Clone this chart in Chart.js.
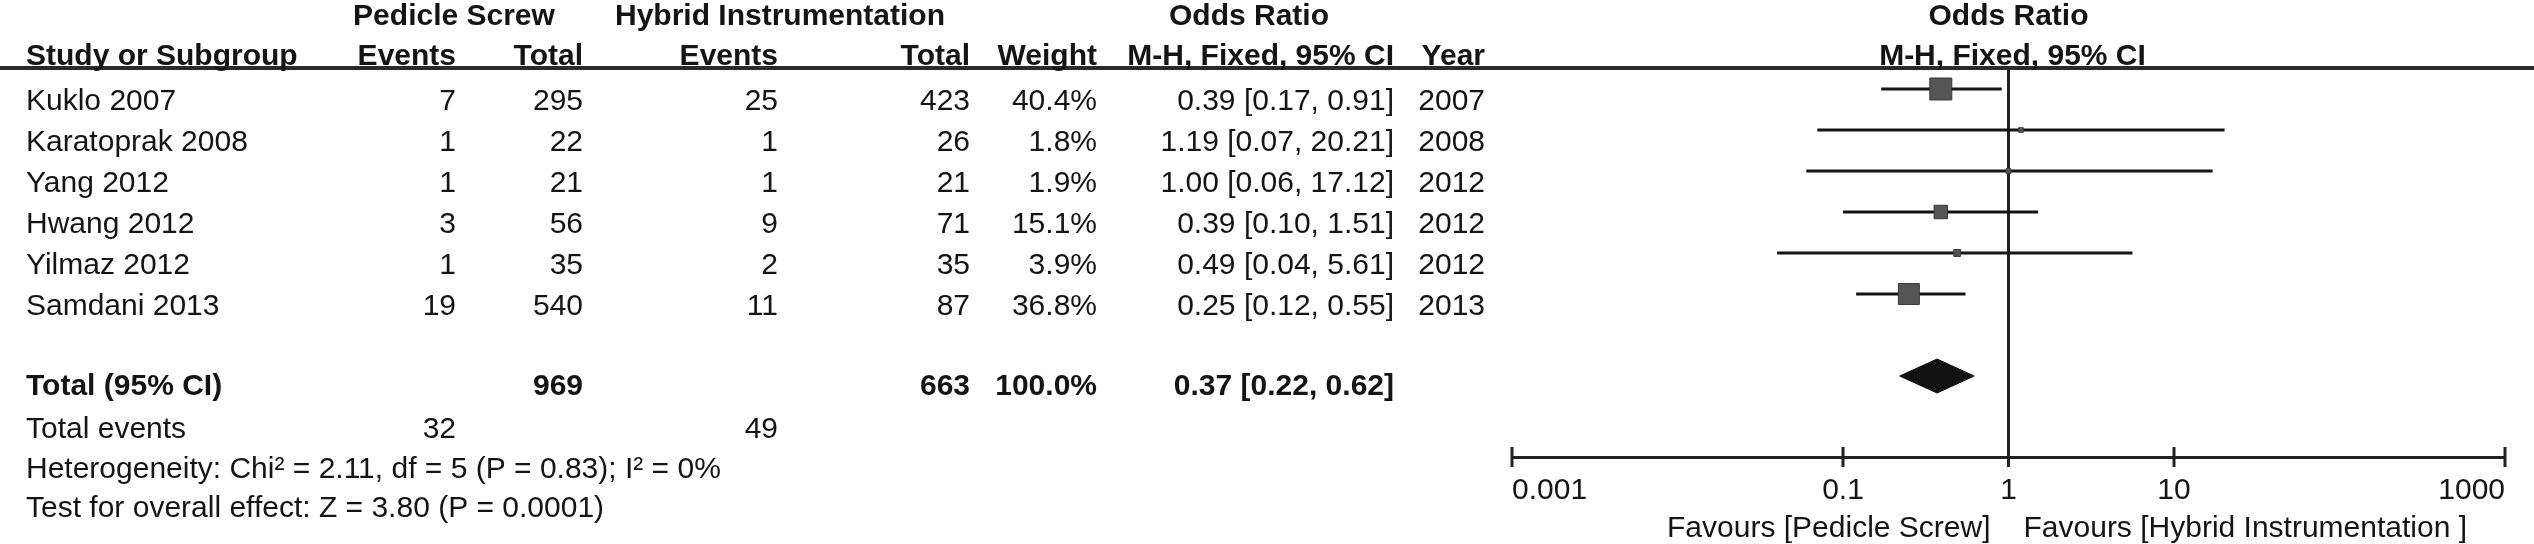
<!DOCTYPE html>
<html>
<head>
<meta charset="utf-8">
<script src="https://cdn.jsdelivr.net/npm/chart.js@4.4.1/dist/chart.umd.min.js"></script>
<style>
html,body{margin:0;padding:0;background:#fff;overflow:hidden}
#wrap{width:2534px;height:544px;position:relative}
</style>
</head>
<body>
<div id="wrap"><canvas id="c" width="2534" height="544"></canvas></div>
<script>
// ---------- data ----------
const studies   = ['Kuklo 2007','Karatoprak 2008','Yang 2012','Hwang 2012','Yilmaz 2012','Samdani 2013'];
const psEvents  = [7, 1, 1, 3, 1, 19];
const psTotal   = [295, 22, 21, 56, 35, 540];
const hiEvents  = [25, 1, 1, 9, 2, 11];
const hiTotal   = [423, 26, 21, 71, 35, 87];
const weights   = [40.4, 1.8, 1.9, 15.1, 3.9, 36.8];
const oddsRatio = [0.39, 1.19, 1.00, 0.39, 0.49, 0.25];
const ciLow     = [0.17, 0.07, 0.06, 0.10, 0.04, 0.12];
const ciHigh    = [0.91, 20.21, 17.12, 1.51, 5.61, 0.55];
const years     = [2007, 2008, 2012, 2012, 2012, 2013];

const totalCounts   = [969, 663];        // pedicle screw, hybrid
const totalEvents   = [32, 49];
const totalWeight   = [100.0];
const pooledOR      = [0.37, 0.22, 0.62]; // estimate, low, high
const statsLines    = ['Heterogeneity: Chi² = 2.11, df = 5 (P = 0.83); I² = 0%',
                       'Test for overall effect: Z = 3.80 (P = 0.0001)'];

const tickValues = [0.001, 0.1, 1, 10, 1000];
const tickLabels = ['0.001', '0.1', '1', '10', '1000'];
const favours    = ['Favours [Pedicle Screw]', 'Favours [Hybrid Instrumentation ]'];

// ---------- style / layout ----------
const FONT = '"Liberation Sans", Arial, Helvetica, sans-serif';
const INK = '#141414';
const TOTAL_ROW = 7;
const ROW_PX = 41, ROW0_PX = 89, TOP_PX = 68, AXIS_PX = 457;

const colX = {E1: 456, T1: 583, E2: 778, T2: 970, W: 1097, CI: 1394, Y: 1485, left: 26};

function txt(ctx, s, x, y, align, bold) {
  ctx.font = (bold ? 'bold ' : '') + '30px ' + FONT;
  ctx.textAlign = align;
  ctx.textBaseline = 'alphabetic';
  ctx.fillStyle = INK;
  ctx.fillText(s, x, y);
}
const f2 = v => v.toFixed(2);

const tablePlugin = {
  id: 'forestTable',
  beforeDatasetsDraw(chart) {
    const ctx = chart.ctx, xs = chart.scales.x, ca = chart.chartArea;
    const x1 = xs.getPixelForValue(1);
    ctx.save();
    ctx.strokeStyle = '#222'; ctx.lineWidth = 3;
    ctx.beginPath(); ctx.moveTo(x1, ca.top); ctx.lineTo(x1, ca.bottom); ctx.stroke();
    ctx.restore();
  },
  afterDraw(chart) {
    const ctx = chart.ctx, xs = chart.scales.x, ys = chart.scales.y, ca = chart.chartArea;
    const x1 = xs.getPixelForValue(1);
    ctx.save();
    // header rule
    ctx.strokeStyle = '#2a2a2a'; ctx.lineWidth = 4;
    ctx.beginPath(); ctx.moveTo(0, ca.top); ctx.lineTo(chart.width, ca.top); ctx.stroke();
    // axis tick marks crossing the axis
    ctx.lineWidth = 3; ctx.strokeStyle = '#222';
    tickValues.forEach(v => {
      const x = xs.getPixelForValue(v);
      ctx.beginPath(); ctx.moveTo(x, ca.bottom - 10); ctx.lineTo(x, ca.bottom + 10); ctx.stroke();
    });
    // top headers
    txt(ctx, 'Pedicle Screw', 454, 25, 'center', true);
    txt(ctx, 'Hybrid Instrumentation', 780, 25, 'center', true);
    txt(ctx, 'Odds Ratio', 1249, 25, 'center', true);
    txt(ctx, 'Odds Ratio', x1, 25, 'center', true);
    // column headers
    const hy = 65;
    txt(ctx, 'Study or Subgroup', colX.left, hy, 'left', true);
    txt(ctx, 'Events', colX.E1, hy, 'right', true);
    txt(ctx, 'Total', colX.T1, hy, 'right', true);
    txt(ctx, 'Events', colX.E2, hy, 'right', true);
    txt(ctx, 'Total', colX.T2, hy, 'right', true);
    txt(ctx, 'Weight', colX.W, hy, 'right', true);
    txt(ctx, 'M-H, Fixed, 95% CI', colX.CI, hy, 'right', true);
    txt(ctx, 'Year', colX.Y, hy, 'right', true);
    txt(ctx, 'M-H, Fixed, 95% CI', x1 + 4, hy, 'center', true);
    // study rows
    studies.forEach((s, i) => {
      const y = ys.getPixelForValue(i) + 21;
      txt(ctx, s, colX.left, y, 'left', false);
      txt(ctx, String(psEvents[i]), colX.E1, y, 'right', false);
      txt(ctx, String(psTotal[i]), colX.T1, y, 'right', false);
      txt(ctx, String(hiEvents[i]), colX.E2, y, 'right', false);
      txt(ctx, String(hiTotal[i]), colX.T2, y, 'right', false);
      txt(ctx, weights[i].toFixed(1) + '%', colX.W, y, 'right', false);
      txt(ctx, f2(oddsRatio[i]) + ' [' + f2(ciLow[i]) + ', ' + f2(ciHigh[i]) + ']', colX.CI, y, 'right', false);
      txt(ctx, String(years[i]), colX.Y, y, 'right', false);
    });
    // total row
    const ty = ys.getPixelForValue(TOTAL_ROW) + 19;
    txt(ctx, 'Total (95% CI)', colX.left, ty, 'left', true);
    txt(ctx, String(totalCounts[0]), colX.T1, ty, 'right', true);
    txt(ctx, String(totalCounts[1]), colX.T2, ty, 'right', true);
    txt(ctx, totalWeight[0].toFixed(1) + '%', colX.W, ty, 'right', true);
    txt(ctx, f2(pooledOR[0]) + ' [' + f2(pooledOR[1]) + ', ' + f2(pooledOR[2]) + ']', colX.CI, ty, 'right', true);
    // total events + stats
    txt(ctx, 'Total events', colX.left, 438, 'left', false);
    txt(ctx, String(totalEvents[0]), colX.E1, 438, 'right', false);
    txt(ctx, String(totalEvents[1]), colX.E2, 438, 'right', false);
    txt(ctx, statsLines[0], colX.left, 478, 'left', false);
    txt(ctx, statsLines[1], colX.left, 517, 'left', false);
    // favours labels
    txt(ctx, favours[0], x1 - 18, 537, 'right', false);
    txt(ctx, favours[1], x1 + 15, 537, 'left', false);
    ctx.restore();
  }
};

// ---------- datasets ----------
const boxData = oddsRatio.map((v, i) => ({x: v, y: i}));
const boxRadius = weights.map(w => 3.46 * Math.sqrt(w) / Math.SQRT2);
const ciSets = studies.map((s, i) => ({
  type: 'line', label: s + ' CI',
  data: [{x: ciLow[i], y: i}, {x: ciHigh[i], y: i}],
  borderColor: '#151515', borderWidth: 3, pointRadius: 0, fill: false, order: 2
}));
const dh = 17 / ROW_PX;
const diamond = {
  type: 'line', label: 'Pooled',
  data: [
    {x: pooledOR[1], y: TOTAL_ROW}, {x: pooledOR[0], y: TOTAL_ROW - dh},
    {x: pooledOR[2], y: TOTAL_ROW}, {x: pooledOR[0], y: TOTAL_ROW + dh},
    {x: pooledOR[1], y: TOTAL_ROW}
  ],
  borderColor: '#111', backgroundColor: '#111', borderWidth: 1, pointRadius: 0,
  fill: 'shape', order: 1
};
const boxes = {
  type: 'scatter', label: 'Studies', data: boxData,
  pointStyle: 'rect', pointRadius: boxRadius, pointHoverRadius: boxRadius,
  backgroundColor: '#555', borderColor: '#3a3a3a', borderWidth: 1, order: 0
};

new Chart(document.getElementById('c'), {
  type: 'scatter',
  data: {datasets: [boxes, diamond, ...ciSets]},
  options: {
    responsive: false, animation: false, devicePixelRatio: 1, events: [],
    layout: {padding: {left: 1512, right: 29, top: TOP_PX, bottom: 0}},
    plugins: {legend: {display: false}, tooltip: {enabled: false}, title: {display: false}},
    scales: {
      x: {
        type: 'logarithmic', position: 'bottom', min: 0.001, max: 1000,
        afterFit(s) { s.height = 544 - AXIS_PX; },
        afterBuildTicks(s) { s.ticks = tickValues.map(v => ({value: v})); },
        grid: {display: false, drawTicks: false},
        border: {display: true, color: '#222', width: 3},
        ticks: {
          autoSkip: false, maxRotation: 0, minRotation: 0, align: 'inner', padding: 16,
          color: INK, font: {family: FONT, size: 30},
          callback: (v, i) => tickLabels[i]
        }
      },
      y: {
        type: 'linear', display: false, reverse: true,
        min: (TOP_PX - ROW0_PX) / ROW_PX, max: (AXIS_PX - ROW0_PX) / ROW_PX
      }
    }
  },
  plugins: [tablePlugin]
});
</script>
</body>
</html>
